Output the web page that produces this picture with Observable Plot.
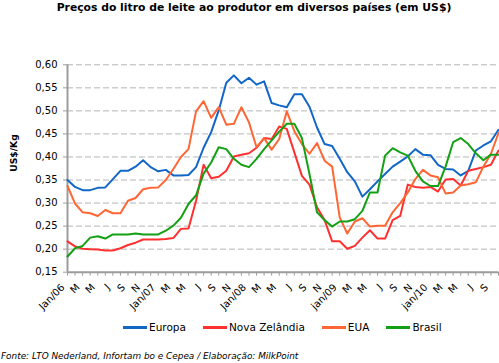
<!DOCTYPE html>
<html>
<head>
<meta charset="utf-8">
<script src="https://cdn.jsdelivr.net/npm/d3@7"></script>
<script src="https://cdn.jsdelivr.net/npm/@observablehq/plot@0.6"></script>
<style>
  html, body { margin: 0; padding: 0; background: #fff; width: 499px; height: 363px; overflow: hidden; }
  #wrap { position: relative; width: 499px; height: 363px; overflow: hidden; font-family: "DejaVu Sans", Verdana, sans-serif; color: #000; }
  #title { position: absolute; left: 4.5px; width: 499px; top: 0px; text-align: center; font-weight: bold; font-size: 10.8px; line-height: 16px; }
  #ylabel { position: absolute; left: 13px; top: 153px; transform: translate(-50%, -50%) rotate(-90deg); font-weight: bold; font-size: 9.2px; white-space: nowrap; }
  #chart { position: absolute; left: 0; top: 24px; width: 499px; height: 290px; }
  #chart svg { display: block; max-width: none; }
  #legend { position: absolute; left: 123px; top: 320px; font-size: 10.5px; line-height: 14px; white-space: nowrap; }
  #legend .item { display: inline-block; margin-right: 17px; }
  #legend .sw { display: inline-block; width: 24px; height: 3px; vertical-align: middle; margin-right: 2px; position: relative; top: -1px; }
  #caption { position: absolute; left: 1px; top: 350px; font-size: 8.9px; font-style: italic; line-height: 12px; white-space: nowrap; }
</style>
</head>
<body>
<div id="wrap">
  <div id="title"></div>
  <div id="ylabel"></div>
  <div id="chart"></div>
  <div id="legend"></div>
  <div id="caption"></div>
</div>
<script>
const titleText = "Preços do litro de leite ao produtor em diversos países (em US$)";
const yLabelText = "US$/Kg";
const captionText = "Fonte: LTO Nederland, Infortam bo e Cepea / Elaboração: MilkPoint";

const months = [
  "2006-01","2006-02","2006-03","2006-04","2006-05","2006-06","2006-07","2006-08","2006-09","2006-10","2006-11","2006-12",
  "2007-01","2007-02","2007-03","2007-04","2007-05","2007-06","2007-07","2007-08","2007-09","2007-10","2007-11","2007-12",
  "2008-01","2008-02","2008-03","2008-04","2008-05","2008-06","2008-07","2008-08","2008-09","2008-10","2008-11","2008-12",
  "2009-01","2009-02","2009-03","2009-04","2009-05","2009-06","2009-07","2009-08","2009-09","2009-10","2009-11","2009-12",
  "2010-01","2010-02","2010-03","2010-04","2010-05","2010-06","2010-07","2010-08","2010-09","2010-10"
];
const xTickLabels = [
  "Jan/06","","M","","M","","J","","S","","N","",
  "Jan/07","","M","","M","","J","","S","","N","",
  "Jan/08","","M","","M","","J","","S","","N","",
  "jan/09","","M","","M","","J","","S","","N","",
  "jan/10","","M","","M","","J","","S",""
];
const yTicks = [0.15,0.20,0.25,0.30,0.35,0.40,0.45,0.50,0.55,0.60];

const seriesNames = ["Europa","Nova Zelândia","EUA","Brasil"];
const seriesColors = ["#1266c8","#ff3030","#ff6633","#14a014"];

const europa = [0.350,0.335,0.328,0.328,0.333,0.334,0.352,0.370,0.370,0.379,0.393,0.378,
  0.369,0.372,0.360,0.360,0.361,0.378,0.420,0.454,0.501,0.561,0.577,0.560,
  0.572,0.557,0.564,0.517,0.512,0.508,0.536,0.536,0.509,0.464,0.428,0.424,
  0.396,0.367,0.347,0.314,0.330,0.347,0.363,0.379,0.390,0.401,0.417,0.405,
  0.404,0.383,0.374,0.373,0.360,0.370,0.414,0.425,0.434,0.459];
const novaZelandia = [0.217,0.206,0.201,0.200,0.199,0.197,0.197,0.202,0.209,0.214,0.221,0.221,
  0.221,0.222,0.224,0.244,0.245,0.305,0.383,0.354,0.357,0.370,0.401,0.405,
  0.408,0.420,0.441,0.439,0.466,0.461,0.410,0.359,0.340,0.291,0.263,0.217,
  0.217,0.201,0.207,0.225,0.241,0.223,0.223,0.263,0.272,0.340,0.335,0.333,
  0.335,0.325,0.351,0.352,0.338,0.370,0.374,0.378,0.383,0.414];
const eua = [0.337,0.299,0.280,0.278,0.272,0.285,0.278,0.278,0.305,0.311,0.330,0.333,
  0.334,0.350,0.374,0.400,0.417,0.499,0.521,0.485,0.508,0.470,0.472,0.508,
  0.475,0.421,0.441,0.416,0.439,0.499,0.456,0.428,0.407,0.430,0.392,0.379,
  0.269,0.234,0.260,0.267,0.249,0.251,0.251,0.280,0.300,0.323,0.352,0.372,
  0.360,0.356,0.321,0.323,0.338,0.341,0.345,0.379,0.407,0.452];
const brasil = [0.184,0.202,0.207,0.225,0.228,0.223,0.232,0.232,0.232,0.234,0.232,0.232,
  0.232,0.240,0.251,0.268,0.298,0.317,0.364,0.388,0.421,0.417,0.396,0.383,
  0.378,0.396,0.417,0.436,0.455,0.472,0.472,0.441,0.363,0.280,0.263,0.249,
  0.260,0.260,0.265,0.283,0.323,0.323,0.403,0.419,0.410,0.403,0.370,0.347,
  0.337,0.337,0.379,0.432,0.441,0.428,0.408,0.393,0.405,0.405];
const seriesValues = [europa, novaZelandia, eua, brasil];

document.getElementById("title").textContent = titleText;
document.getElementById("ylabel").textContent = yLabelText;
document.getElementById("caption").textContent = captionText;

const axisColor = "#9c9c9c";
const chart = Plot.plot({
  width: 499,
  height: 290,
  marginLeft: 67,
  marginRight: 1,
  marginTop: 40.3,
  marginBottom: 42.3,
  style: { fontFamily: "DejaVu Sans, Verdana, sans-serif", fontSize: "10px", color: "#000", background: "transparent", overflow: "visible" },
  x: { type: "point", domain: months, padding: 0 },
  y: { domain: [0.15, 0.60] },
  marks: [
    Plot.gridY(yTicks.slice(1), { stroke: "#b4b4b4", strokeOpacity: 1, strokeWidth: 1, strokeDasharray: "6,3" }),
    Plot.axisY(yTicks, { tickFormat: d => d.toFixed(2).replace(".", ","), tickSize: 4, tickPadding: 6, stroke: axisColor, label: null }),
    Plot.axisX(months, { tickFormat: () => "", tickSize: 4, stroke: axisColor, label: null }),
    Plot.axisX(months, { tickFormat: d => xTickLabels[months.indexOf(d)], tickRotate: -45, tickSize: 0, tickPadding: 7, dx: -4.5, dy: 6.5, label: null }),
    Plot.ruleX([months[0]], { stroke: axisColor, strokeWidth: 2 }),
    Plot.ruleY([0.15], { stroke: axisColor, strokeWidth: 2 }),
    ...seriesValues.map((vals, k) => Plot.lineY(vals, { x: months, y: d => d, stroke: seriesColors[k], strokeWidth: 2 }))
  ]
});
document.getElementById("chart").appendChild(chart);

const legend = document.getElementById("legend");
seriesNames.forEach((name, k) => {
  const item = document.createElement("span");
  item.className = "item";
  const sw = document.createElement("span");
  sw.className = "sw";
  sw.style.background = seriesColors[k];
  item.appendChild(sw);
  item.appendChild(document.createTextNode(name));
  legend.appendChild(item);
});
</script>
</body>
</html>
